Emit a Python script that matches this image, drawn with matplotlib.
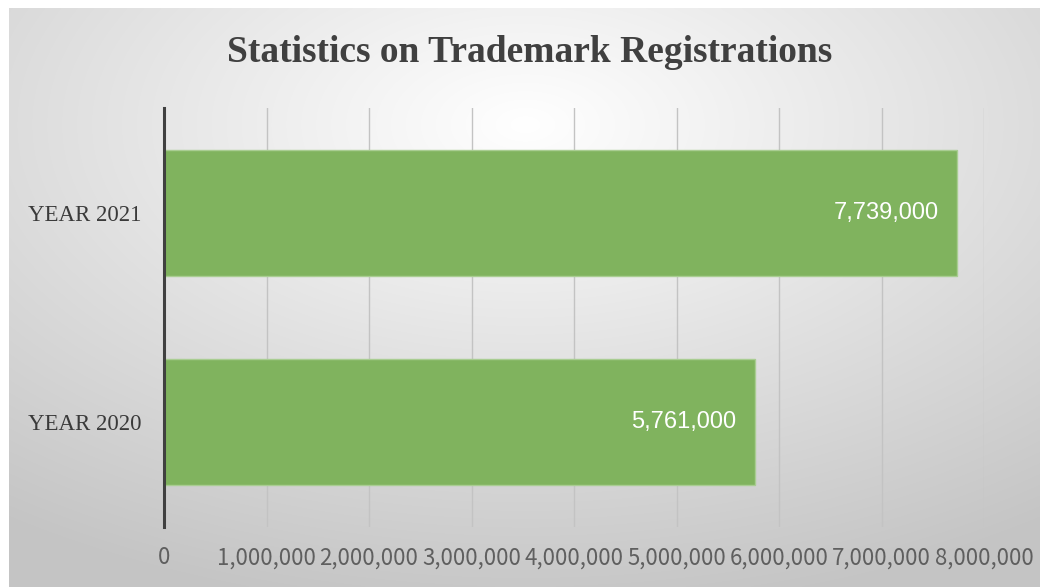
import numpy as np
import matplotlib
matplotlib.use("Agg")
import matplotlib.pyplot as plt

categories = ["YEAR 2020", "YEAR 2021"]
values = [5761000, 7739000]
xticks = [0, 1000000, 2000000, 3000000, 4000000, 5000000, 6000000, 7000000, 8000000]
title = "Statistics on Trademark Registrations"

fig = plt.figure(figsize=(10.4, 5.87), dpi=100)
fig.patch.set_facecolor("white")

# radial gradient panel behind the chart
bg = fig.add_axes([9 / 1040, 0, 1 - 9 / 1040, 1 - 8 / 587], zorder=-1)
h, w = 290, 515
yy, xx = np.mgrid[0:h, 0:w]
cx, cy = w * 0.50, h * 0.20
r = np.sqrt(((xx - cx) / w) ** 2 + ((yy - cy) / h) ** 2)
r = np.clip(r / 0.85, 0, 1)
shade = 1.0 - 0.23 * r ** 1.0
img = np.dstack([shade, shade, shade])
bg.imshow(img, aspect="auto", extent=[0, 1, 0, 1], interpolation="bilinear")
bg.set_axis_off()

ax = fig.add_axes([164 / 1040, 1 - 527 / 587, 820 / 1040, 419 / 587])
ax.patch.set_alpha(0)

sans = ["Noto Sans CJK SC", "DejaVu Sans"]
pos = np.arange(len(categories))
bars = ax.barh(pos, values, height=0.6, color="#80b35e", edgecolor="#a9cd92",
               linewidth=1, zorder=3)

for b, v in zip(bars, values):
    ax.text(v - 180000, b.get_y() + b.get_height() / 2, f"{v:,}",
            color="white", ha="right", va="center", fontsize=17,
            family="Liberation Sans", zorder=4)

ax.set_xlim(0, 8000000)
ax.set_ylim(-0.5, 1.5)
ax.set_xticks(xticks)
ax.set_xticklabels([f"{t:,}" for t in xticks], fontsize=16, color="#5f5f5f",
                   family=sans, fontweight="light")
ax.set_yticks(pos)
ax.set_yticklabels(categories, fontsize=16.5, color="#3a3a3a", family="Liberation Serif")
ax.tick_params(axis="x", length=0, pad=14)
ax.tick_params(axis="y", length=0, pad=16)
ax.grid(axis="x", color="#c3c3c3", linewidth=1, zorder=1)
for s in ["top", "right", "bottom"]:
    ax.spines[s].set_visible(False)
ax.spines["left"].set_color("#404040")
ax.spines["left"].set_linewidth(2.2)
ax.spines["left"].set_zorder(5)

fig.text(0.509, 0.911, title, ha="center", va="center", fontsize=27,
         fontweight="bold", color="#404040", family="Liberation Serif")

fig.savefig("out.png", dpi=100)
